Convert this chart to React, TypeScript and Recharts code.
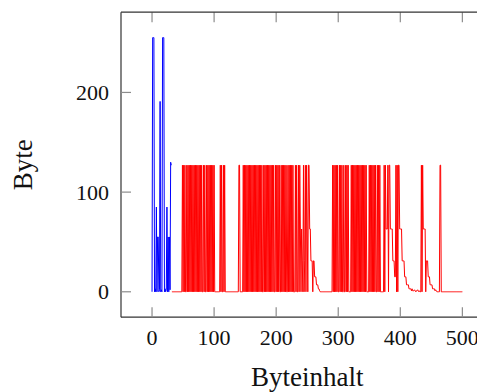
import React from 'react';
import { LineChart, Line, XAxis, YAxis, ReferenceLine } from 'recharts';

const xTicks = [0, 100, 200, 300, 400, 500];
const yTicks = [0, 100, 200];

// first 32 bytes (blue)
const blueValues = [
  0, 255, 255, 255, 0, 3, 0, 85, 0, 55, 55, 0, 2, 191, 0, 2,
  0, 255, 255, 255, 0, 3, 0, 2, 85, 0, 55, 0, 55, 2, 130, 127,
];

// remaining bytes (red), starting at byte 32
const redStart = 32;
const redValues = [
  0, 0, 0, 0, 0, 0, 0, 0, 0, 0, 0, 0, 0, 0, 0, 0, 0,
  127, 0, 127, 0, 127, 0, 0,
  127, 0, 127, 0, 127, 0, 127, 0, 127, 0, 127, 0, 127, 0, 127, 0, 127, 0, 127, 0, 127, 0, 127, 0, 127,
  0, 0, 127, 0, 127, 0, 0,
  127, 0, 127, 0, 127, 0, 127, 0, 127, 0, 127, 0, 127, 0,
  0, 0, 0, 0, 0, 0, 0, 0,
  127, 0, 127, 0, 0, 127, 0, 127, 0,
  0, 0, 0, 0, 0, 0, 0, 0, 0, 0, 0, 0, 0, 0, 0, 0, 0, 0, 0, 0, 0,
  127, 127, 0, 0, 0, 0, 0,
  127, 0, 127, 0, 127, 0, 127, 0, 127, 0, 127, 0, 127, 0, 127, 0, 127, 0, 127, 0, 127, 0, 127, 0, 127, 0, 127, 0, 127, 0, 127,
  0, 0,
  127, 0, 127, 0, 127, 0, 127, 0, 127, 0, 127, 0, 127, 0, 127, 0, 127,
  0, 0,
  127, 0, 127, 0, 127, 0, 127,
  0, 0,
  127, 0, 127, 0, 127, 0, 127, 0, 127,
  0, 0,
  127, 0, 127, 0, 127, 0, 127, 0, 127, 0,
  0, 0,
  127, 0, 127, 0, 0,
  127, 0, 127, 63, 0, 63, 31, 0, 127, 0, 31, 127, 0, 127, 63, 0, 127, 127, 63, 63, 31, 31, 31, 0, 31, 31, 15, 15, 15, 7, 7, 7, 3, 3, 1, 0,
  0, 0, 0, 0, 0, 0, 0, 0, 0, 0, 0, 0, 0, 0, 0, 0, 0, 0, 0,
  127, 0, 127, 0, 127, 0, 127, 0, 127,
  0, 0,
  127, 0, 127, 0, 127,
  0, 0, 127, 0, 0,
  127, 0, 127, 0, 127, 0,
  0, 0, 0,
  127, 0, 127, 0, 127, 0, 127, 0, 127, 0, 127, 0, 127, 0, 127, 0, 127, 0, 127, 0, 127, 0, 127, 0, 127,
  0, 0, 0, 0,
  127, 0, 127, 0, 127, 0, 127, 0, 127, 0, 127, 0,
  0,
  127, 0, 127, 0, 127,
  0, 0, 0, 0, 0, 0,
  127, 0, 127, 63, 63, 63, 127, 0, 127, 127, 63, 63, 63, 63, 31, 31, 31, 15, 15,
  127, 0, 127, 0, 127, 127, 63, 63, 63, 63, 31, 31, 31, 31, 15, 15, 15, 7, 7, 7, 7,
  3, 3, 3, 3, 1, 3, 1, 1, 1, 2, 1, 0, 1, 1, 2, 1, 0, 1, 0, 0,
  127, 0, 127, 63, 63, 63, 63, 0, 31, 31, 31, 15, 15, 15, 7, 7, 7, 7, 3, 3, 3, 3, 1, 2, 1,
  0, 0, 0, 0, 0, 127, 127,
  0, 0, 0, 0, 0, 0, 0, 0, 0, 0, 0, 0, 0, 0, 0, 0, 0, 0, 0, 0, 0, 0, 0, 0, 0, 0, 0, 0, 0, 0, 0, 0, 0, 0, 0,
];

const blueData = blueValues.map((value, i) => ({ byte: i, value }));
const redData = redValues.map((value, i) => ({ byte: redStart + i, value }));

const X_DOMAIN: [number, number] = [-50, 550];
const Y_DOMAIN: [number, number] = [-25.5, 280.5];
const PLOT_W = 372.4;
const PLOT_H = 305;
const TICK_PX = 10;
const tickLenY = (TICK_PX * (Y_DOMAIN[1] - Y_DOMAIN[0])) / PLOT_H;

const FONT = '"Liberation Serif", "Times New Roman", serif';
const TICK_COLOR = '#8c8c8c';
const FRAME_COLOR = '#333';

const BottomTick = ({ x, y, payload }: any) => (
  <text x={x} y={y + 28} textAnchor="middle" fontFamily={FONT} fontSize={22} fill="#111">
    {payload.value}
  </text>
);

const LeftTick = ({ x, y, payload }: any) => (
  <text x={x} y={y + 7.5} textAnchor="end" fontFamily={FONT} fontSize={22} fill="#111">
    {payload.value}
  </text>
);

// top axis: its tick also draws the matching inward mark on the bottom edge
const TopTick = ({ x, y }: any) => (
  <g>
    <line x1={x} y1={y + PLOT_H} x2={x} y2={y + PLOT_H - TICK_PX} stroke={TICK_COLOR} strokeWidth={1.2} />
  </g>
);

// right axis: its tick also draws the matching inward mark on the left edge
const RightTick = ({ x, y }: any) => (
  <g>
    <line x1={x} y1={y} x2={x - TICK_PX} y2={y} stroke={TICK_COLOR} strokeWidth={1.2} />
    <line x1={x - PLOT_W} y1={y} x2={x - PLOT_W + TICK_PX} y2={y} stroke={TICK_COLOR} strokeWidth={1.2} />
  </g>
);

const topSegments = xTicks.map((t) => [
  { x: t, y: Y_DOMAIN[1] },
  { x: t, y: Y_DOMAIN[1] - tickLenY },
]);

export default function App() {
  return (
    <div style={{ width: 477, height: 384, overflow: 'hidden' }}>
      <LineChart
        width={488}
        height={384}
        margin={{ top: 3.2, right: 1.6, bottom: 0, left: 0 }}
      >
        <XAxis
          dataKey="byte"
          type="number"
          domain={X_DOMAIN}
          ticks={xTicks}
          interval={0}
          allowDataOverflow
          height={74.8}
          tickSize={0}
          tickMargin={0}
          tickLine={false}
          tick={BottomTick}
          axisLine={{ stroke: FRAME_COLOR, strokeWidth: 1.2 }}
          label={{
            content: (props: any) => {
              const vb = props.viewBox;
              return (
                <text
                  x={vb.x + vb.width / 2}
                  y={vb.y + vb.height - 6}
                  textAnchor="middle"
                  fontFamily={FONT}
                  fontSize={27}
                  fill="#111"
                >
                  Byteinhalt
                </text>
              );
            },
          }}
        />
        <XAxis
          xAxisId="top"
          dataKey="byte"
          orientation="top"
          type="number"
          domain={X_DOMAIN}
          ticks={xTicks}
          interval={0}
          allowDataOverflow
          height={1}
          tickSize={0}
          tickMargin={0}
          tickLine={false}
          tick={TopTick}
          axisLine={{ stroke: FRAME_COLOR, strokeWidth: 1.2 }}
        />
        <YAxis
          type="number"
          domain={Y_DOMAIN}
          ticks={yTicks}
          interval={0}
          allowDataOverflow
          width={113}
          tickSize={0}
          tickMargin={12}
          tickLine={false}
          tick={LeftTick}
          axisLine={{ stroke: FRAME_COLOR, strokeWidth: 1.2 }}
          label={{
            content: (props: any) => {
              const vb = props.viewBox;
              const cy = vb.y + vb.height / 2;
              return (
                <text
                  x={24}
                  y={cy}
                  transform={`rotate(-90 24 ${cy})`}
                  textAnchor="middle"
                  fontFamily={FONT}
                  fontSize={27}
                  fill="#111"
                >
                  Byte
                </text>
              );
            },
          }}
        />
        <YAxis
          yAxisId="right"
          orientation="right"
          type="number"
          domain={Y_DOMAIN}
          ticks={yTicks}
          interval={0}
          allowDataOverflow
          width={1}
          tickSize={0}
          tickMargin={0}
          tickLine={false}
          tick={RightTick}
          axisLine={{ stroke: FRAME_COLOR, strokeWidth: 1.2 }}
        />
        {topSegments.map((seg, i) => (
          <ReferenceLine
            key={`tick-${i}`}
            xAxisId="top"
            yAxisId="right"
            segment={seg}
            ifOverflow="visible"
            stroke={TICK_COLOR}
            strokeWidth={1.2}
          />
        ))}
        <Line
          data={blueData}
          dataKey="value"
          stroke="#0000ff"
          strokeWidth={1}
          dot={false}
          isAnimationActive={false}
        />
        <Line
          data={redData}
          dataKey="value"
          xAxisId="top"
          yAxisId="right"
          stroke="#ff0000"
          strokeWidth={1}
          dot={false}
          isAnimationActive={false}
        />
      </LineChart>
    </div>
  );
}
